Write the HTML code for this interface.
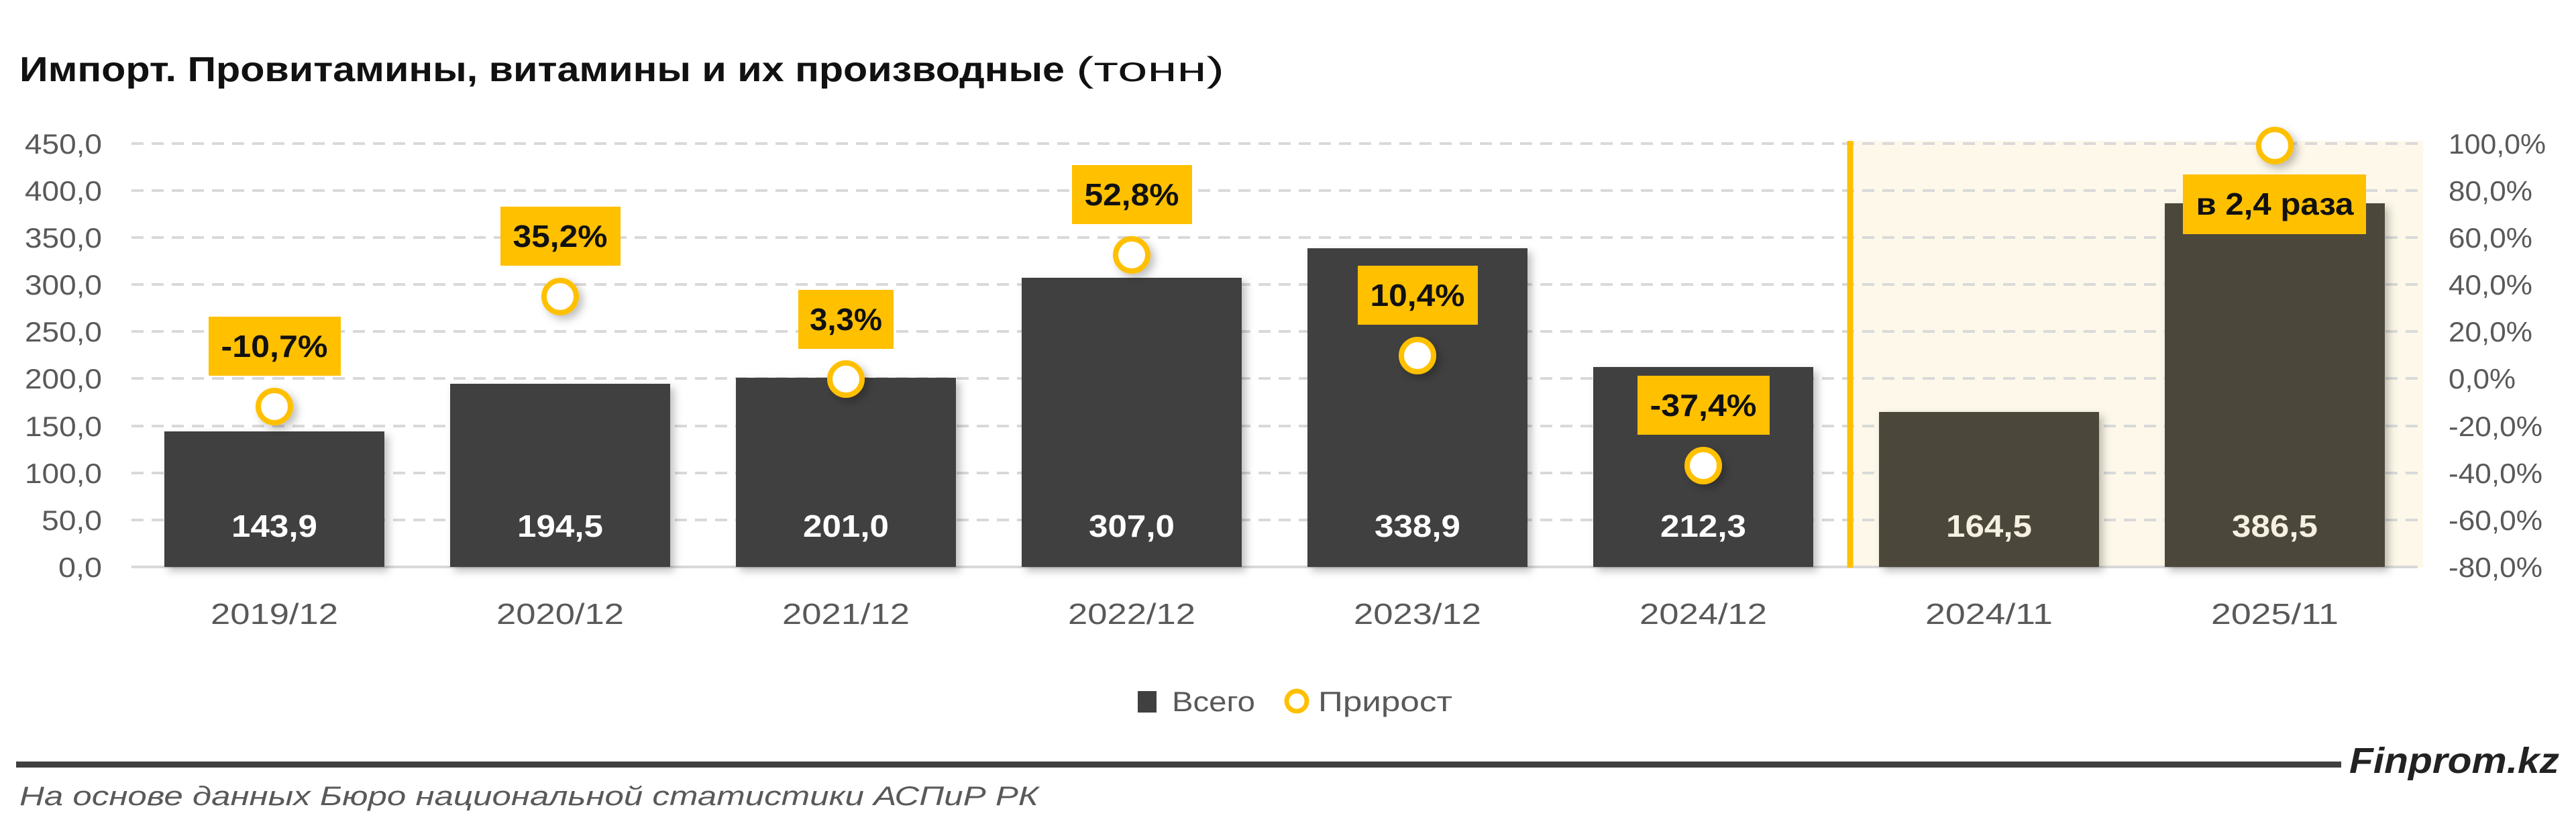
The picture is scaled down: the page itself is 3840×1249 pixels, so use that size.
<!DOCTYPE html>
<html><head><meta charset="utf-8"><style>
html,body{margin:0;padding:0;background:#fff;}
svg{display:block;}
text{font-family:"Liberation Sans","DejaVu Sans",sans-serif;}
</style></head><body>
<svg width="3840" height="1249" viewBox="0 0 3840 1249" xmlns="http://www.w3.org/2000/svg">
<defs>
<filter id="sh" x="-20%" y="-20%" width="140%" height="140%"><feDropShadow dx="6" dy="6" stdDeviation="6" flood-color="#000" flood-opacity="0.25"/></filter>
</defs>
<text x="29" y="121" font-size="52" font-weight="bold" fill="#111" textLength="1558" lengthAdjust="spacingAndGlyphs">Импорт. Провитамины, витамины и их производные</text>
<text x="1604" y="121" font-size="52" fill="#111" textLength="221" lengthAdjust="spacingAndGlyphs">(тонн)</text>
<rect x="2758" y="210" width="854" height="636" fill="#fdf8e9"/>
<g stroke="#d9d9d9" stroke-width="4" stroke-dasharray="18,12">
<line x1="196" x2="3604" y1="214" y2="214"/><line x1="196" x2="3604" y1="284" y2="284"/>
<line x1="196" x2="3604" y1="354" y2="354"/><line x1="196" x2="3604" y1="424" y2="424"/>
<line x1="196" x2="3604" y1="494" y2="494"/><line x1="196" x2="3604" y1="564" y2="564"/>
<line x1="196" x2="3604" y1="635" y2="635"/><line x1="196" x2="3604" y1="705" y2="705"/>
<line x1="196" x2="3604" y1="775" y2="775"/>
</g>
<line x1="196" x2="3604" y1="845" y2="845" stroke="#d9d9d9" stroke-width="4"/>
<g font-size="42" fill="#595959" text-anchor="end">
<text x="152" y="229" textLength="115" lengthAdjust="spacingAndGlyphs">450,0</text>
<text x="152" y="299" textLength="115" lengthAdjust="spacingAndGlyphs">400,0</text>
<text x="152" y="369" textLength="115" lengthAdjust="spacingAndGlyphs">350,0</text>
<text x="152" y="439" textLength="115" lengthAdjust="spacingAndGlyphs">300,0</text>
<text x="152" y="509" textLength="115" lengthAdjust="spacingAndGlyphs">250,0</text>
<text x="152" y="579" textLength="115" lengthAdjust="spacingAndGlyphs">200,0</text>
<text x="152" y="650" textLength="115" lengthAdjust="spacingAndGlyphs">150,0</text>
<text x="152" y="720" textLength="115" lengthAdjust="spacingAndGlyphs">100,0</text>
<text x="152" y="790" textLength="90" lengthAdjust="spacingAndGlyphs">50,0</text>
<text x="152" y="860" textLength="65" lengthAdjust="spacingAndGlyphs">0,0</text>
</g>
<g font-size="42" fill="#595959">
<text x="3650" y="229" textLength="145" lengthAdjust="spacingAndGlyphs">100,0%</text>
<text x="3650" y="299" textLength="125" lengthAdjust="spacingAndGlyphs">80,0%</text>
<text x="3650" y="369" textLength="125" lengthAdjust="spacingAndGlyphs">60,0%</text>
<text x="3650" y="439" textLength="125" lengthAdjust="spacingAndGlyphs">40,0%</text>
<text x="3650" y="509" textLength="125" lengthAdjust="spacingAndGlyphs">20,0%</text>
<text x="3650" y="579" textLength="100" lengthAdjust="spacingAndGlyphs">0,0%</text>
<text x="3650" y="650" textLength="140" lengthAdjust="spacingAndGlyphs">-20,0%</text>
<text x="3650" y="720" textLength="140" lengthAdjust="spacingAndGlyphs">-40,0%</text>
<text x="3650" y="790" textLength="140" lengthAdjust="spacingAndGlyphs">-60,0%</text>
<text x="3650" y="860" textLength="140" lengthAdjust="spacingAndGlyphs">-80,0%</text>
</g>
<line x1="2758" x2="2758" y1="210" y2="846" stroke="#ffc000" stroke-width="9"/>
<g filter="url(#sh)">
<rect x="245" y="643" width="328" height="202" fill="#404040"/>
<rect x="671" y="572" width="328" height="273" fill="#404040"/>
<rect x="1097" y="563" width="328" height="282" fill="#404040"/>
<rect x="1523" y="414" width="328" height="431" fill="#404040"/>
<rect x="1949" y="370" width="328" height="475" fill="#404040"/>
<rect x="2375" y="547" width="328" height="298" fill="#404040"/>
<rect x="2801" y="614" width="328" height="231" fill="#4b463a"/>
<rect x="3227" y="303" width="328" height="542" fill="#4b463a"/>
</g>
<g font-size="46" font-weight="bold" fill="#fff" text-anchor="middle">
<text x="409" y="800" textLength="128" lengthAdjust="spacingAndGlyphs">143,9</text>
<text x="835" y="800" textLength="128" lengthAdjust="spacingAndGlyphs">194,5</text>
<text x="1261" y="800" textLength="128" lengthAdjust="spacingAndGlyphs">201,0</text>
<text x="1687" y="800" textLength="128" lengthAdjust="spacingAndGlyphs">307,0</text>
<text x="2113" y="800" textLength="128" lengthAdjust="spacingAndGlyphs">338,9</text>
<text x="2539" y="800" textLength="128" lengthAdjust="spacingAndGlyphs">212,3</text>
<text x="2965" y="800" textLength="128" lengthAdjust="spacingAndGlyphs" fill="#f5f0e0">164,5</text>
<text x="3391" y="800" textLength="128" lengthAdjust="spacingAndGlyphs" fill="#f5f0e0">386,5</text>
</g>
<g fill="#fff" stroke="#ffc000" stroke-width="8" filter="url(#sh)">
<circle cx="409" cy="606" r="24"/>
<circle cx="835" cy="442" r="24"/>
<circle cx="1261" cy="565" r="24"/>
<circle cx="1687" cy="380" r="24"/>
<circle cx="2113" cy="530" r="24"/>
<circle cx="2539" cy="694" r="24"/>
<circle cx="3391" cy="217" r="24"/>
</g>
<g fill="#ffc000">
<rect x="311" y="472" width="197" height="88"/>
<rect x="746" y="308" width="179" height="88"/>
<rect x="1190" y="432" width="142" height="88"/>
<rect x="1598" y="246" width="179" height="88"/>
<rect x="2024" y="396" width="179" height="88"/>
<rect x="2441" y="560" width="197" height="88"/>
<rect x="3254" y="260" width="273" height="89"/>
</g>
<g font-size="46" font-weight="bold" fill="#111" text-anchor="middle">
<text x="409" y="532" textLength="159" lengthAdjust="spacingAndGlyphs">-10,7%</text>
<text x="835" y="368" textLength="141" lengthAdjust="spacingAndGlyphs">35,2%</text>
<text x="1261" y="492" textLength="108" lengthAdjust="spacingAndGlyphs">3,3%</text>
<text x="1687" y="306" textLength="141" lengthAdjust="spacingAndGlyphs">52,8%</text>
<text x="2113" y="456" textLength="141" lengthAdjust="spacingAndGlyphs">10,4%</text>
<text x="2539" y="620" textLength="159" lengthAdjust="spacingAndGlyphs">-37,4%</text>
<text x="3391" y="320" textLength="235" lengthAdjust="spacingAndGlyphs">в 2,4 раза</text>
</g>
<g font-size="44" fill="#595959" text-anchor="middle">
<text x="409" y="930" textLength="190" lengthAdjust="spacingAndGlyphs">2019/12</text>
<text x="835" y="930" textLength="190" lengthAdjust="spacingAndGlyphs">2020/12</text>
<text x="1261" y="930" textLength="190" lengthAdjust="spacingAndGlyphs">2021/12</text>
<text x="1687" y="930" textLength="190" lengthAdjust="spacingAndGlyphs">2022/12</text>
<text x="2113" y="930" textLength="190" lengthAdjust="spacingAndGlyphs">2023/12</text>
<text x="2539" y="930" textLength="190" lengthAdjust="spacingAndGlyphs">2024/12</text>
<text x="2965" y="930" textLength="190" lengthAdjust="spacingAndGlyphs">2024/11</text>
<text x="3391" y="930" textLength="190" lengthAdjust="spacingAndGlyphs">2025/11</text>
</g>
<rect x="1696" y="1030" width="28" height="32" fill="#404040"/>
<text x="1747" y="1060" font-size="42" fill="#595959" textLength="124" lengthAdjust="spacingAndGlyphs">Всего</text>
<circle cx="1933" cy="1045" r="15" fill="#fff" stroke="#ffc000" stroke-width="7"/>
<text x="1965" y="1060" font-size="42" fill="#595959" textLength="200" lengthAdjust="spacingAndGlyphs">Прирост</text>
<rect x="24" y="1135" width="3466" height="9" fill="#404040"/>
<text x="3502" y="1152" font-size="54" font-weight="bold" font-style="italic" fill="#222" textLength="313" lengthAdjust="spacingAndGlyphs">Finprom.kz</text>
<text x="29" y="1200" font-size="40" font-style="italic" fill="#595959" textLength="1519" lengthAdjust="spacingAndGlyphs">На основе данных Бюро национальной статистики АСПиР РК</text>
</svg>
</body></html>
